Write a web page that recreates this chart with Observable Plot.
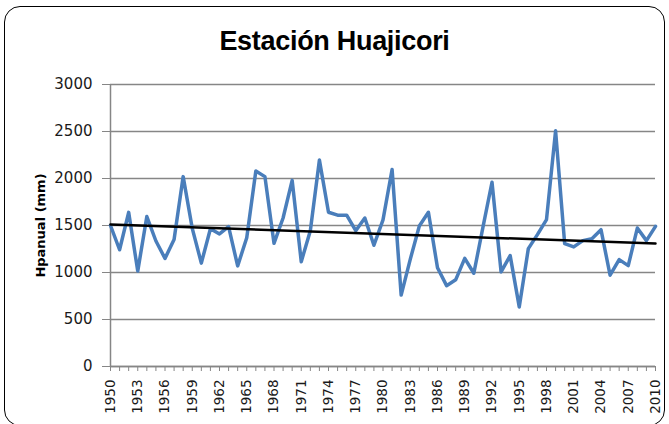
<!DOCTYPE html>
<html>
<head>
<meta charset="utf-8">
<script src="https://cdn.jsdelivr.net/npm/d3@7"></script>
<script src="https://cdn.jsdelivr.net/npm/@observablehq/plot@0.6"></script>
<style>
  html, body { margin: 0; padding: 0; background: #fff; }
  #wrap { position: relative; width: 669px; height: 424px; overflow: hidden; }
  #frame { position: absolute; left: 4px; top: 6px; width: 661px; height: 420px; border: 1.5px solid #000; border-radius: 16px; box-sizing: border-box; }
  #title { position: absolute; left: 0; top: 0; width: 669px; height: 70px; text-align: center; font-family: "Liberation Sans", Arial, sans-serif; font-weight: bold; font-size: 27px; line-height: 1; padding-top: 28px; box-sizing: border-box; color: #000; letter-spacing: -0.3px; }
  #chart { position: absolute; left: 0; top: 70px; }
</style>
</head>
<body>
<div id="wrap">
  <div id="frame"></div>
  <div id="title">Estación Huajicori</div>
  <div id="chart"></div>
</div>
<script>
const years = d3.range(1950, 2011);
const hpanual = [
  1500, 1242, 1640, 1015, 1595, 1335, 1150, 1350, 2020, 1470,
  1100, 1466, 1410, 1487, 1070, 1370, 2080, 2020, 1310, 1580,
  1980, 1115, 1445, 2196, 1641, 1610, 1610, 1445, 1580, 1290,
  1560, 2096, 760, 1140, 1495, 1641, 1050, 860, 922, 1150,
  992, 1480, 1960, 1006, 1180, 634, 1254, 1403, 1562, 2507,
  1307, 1272, 1339, 1360, 1456, 971, 1137, 1073, 1473, 1339,
  1491
];
const yTicks = [0, 500, 1000, 1500, 2000, 2500, 3000];
const xLabelTicks = d3.range(1950, 2011, 3);
const yLabel = "Hpanual (mm)";

const data = years.map((y, i) => ({year: y, value: hpanual[i]}));

const chart = Plot.plot({
  width: 669,
  height: 354,
  marginLeft: 110,
  marginRight: 14,
  marginTop: 14,
  marginBottom: 58,
  style: {fontFamily: "DejaVu Sans, sans-serif", background: "transparent", overflow: "visible"},
  x: {domain: [1950, 2010], type: "linear"},
  y: {domain: [0, 3000]},
  marks: [
    Plot.gridY(yTicks, {stroke: "#868686", strokeOpacity: 1, strokeWidth: 1.3}),
    Plot.ruleX([1950], {stroke: "#868686", strokeWidth: 1.5}),
    Plot.ruleY([0], {stroke: "#868686", strokeWidth: 1.5}),
    Plot.axisY(yTicks, {tickSize: 8, tickPadding: 10, stroke: "#868686", fontSize: 15, fill: "#1a1a1a", tickFormat: d => String(d), label: null}),
    Plot.axisX(years, {tickSize: 5, stroke: "#868686", text: null, label: null}),
    Plot.axisX(xLabelTicks, {tickSize: 0, tickPadding: 13, tickRotate: -90, fontSize: 13.5, fill: "#1a1a1a", tickFormat: d => String(d), label: null}),
    Plot.text([yLabel], {frameAnchor: "left", dx: -70, rotate: -90, textAnchor: "middle", fontWeight: "bold", fontSize: 13, fill: "#000"}),
    Plot.line(data, {x: "year", y: "value", stroke: "#4A7EBB", strokeWidth: 3.5, strokeLinejoin: "round", strokeLinecap: "round"}),
    Plot.linearRegressionY(data, {x: "year", y: "value", stroke: "#000", strokeWidth: 2.5, ci: 0})
  ]
});
document.getElementById("chart").appendChild(chart);
</script>
</body>
</html>
